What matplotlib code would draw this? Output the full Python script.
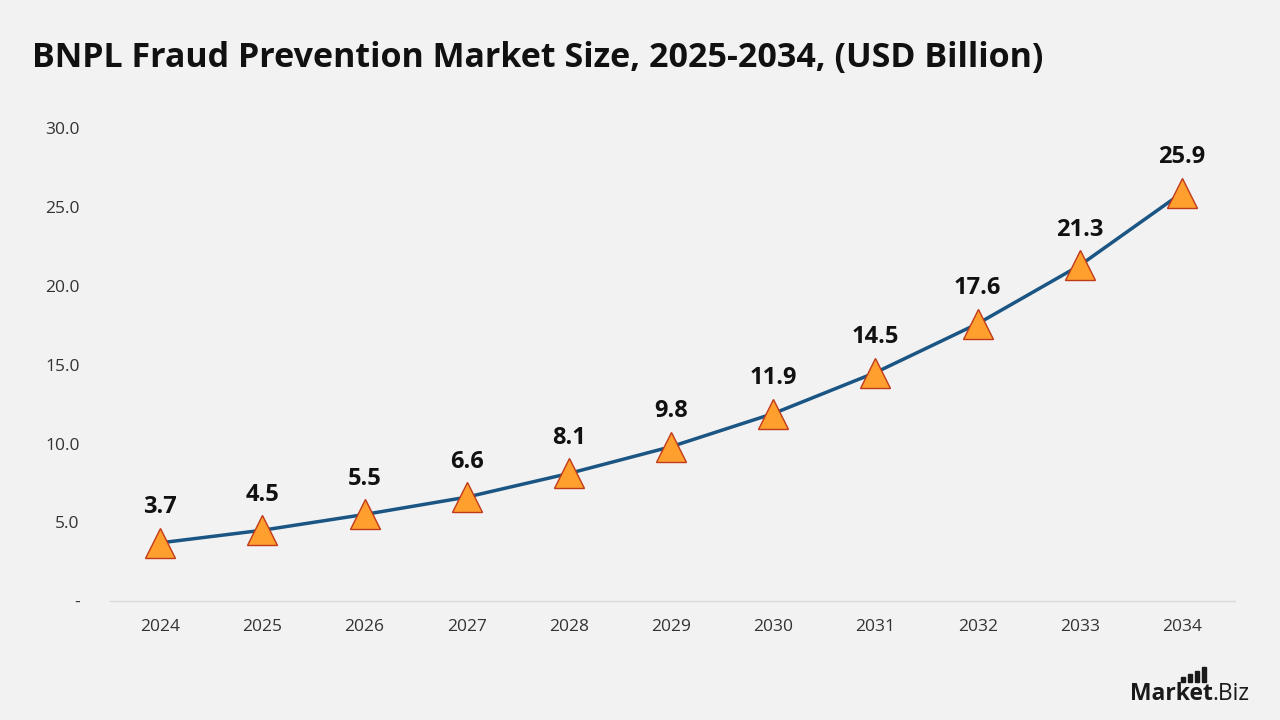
import matplotlib
matplotlib.use("Agg")
import matplotlib.pyplot as plt
from matplotlib.patches import Rectangle

years = ["2024", "2025", "2026", "2027", "2028", "2029", "2030", "2031", "2032", "2033", "2034"]
values = [3.7, 4.5, 5.5, 6.6, 8.1, 9.8, 11.9, 14.5, 17.6, 21.3, 25.9]
yticks = [0, 5, 10, 15, 20, 25, 30]
ytick_labels = ["-", "5.0", "10.0", "15.0", "20.0", "25.0", "30.0"]

plt.rcParams['font.family'] = ['Open Sans', 'DejaVu Sans']
bg = "#f2f2f2"
W, H = 1280, 720
fig = plt.figure(figsize=(12.8, 7.2), dpi=100, facecolor=bg)
ax = fig.add_axes([0.086, 0.165, 0.879, 0.657], facecolor=bg)

x = list(range(len(years)))
ax.plot(x, values, color="#1a5583", lw=2.5, zorder=2)
ax.plot(x, values, linestyle="none", marker="^", markersize=22,
        markerfacecolor="#ff9f2e", markeredgecolor="#c0391b", markeredgewidth=1.0, zorder=3)
for xi, v in zip(x, values):
    ax.annotate(f"{v:.1f}", (xi, v), xytext=(0, 17), textcoords="offset points",
                ha="center", va="bottom", fontsize=17, fontweight="bold", color="#111111")

ax.set_xlim(-0.49, 10.52)
ax.set_ylim(0, 30)
ax.set_xticks(x)
ax.set_xticklabels(years, fontsize=12.5, color="#333333")
ax.set_yticks(yticks)
ax.set_yticklabels(ytick_labels, fontsize=12.5, color="#333333")
ax.tick_params(axis="both", length=0, pad=13)
ax.tick_params(axis="y", pad=22)
for s in ["top", "right", "left"]:
    ax.spines[s].set_visible(False)
ax.spines["bottom"].set_color("#d9d9d9")
ax.spines["bottom"].set_linewidth(1)

fig.text(0.025, 0.92, "BNPL Fraud Prevention Market Size, 2025-2034, (USD Billion)",
         fontsize=24.5, fontweight="bold", color="#111111", va="center", ha="left")

# watermark
t1 = fig.text(1130 / W, 1 - 694 / H, "Market", fontsize=16.5, fontweight="bold",
              color="#1a1a1a", ha="left", va="center")
fig.canvas.draw()
bb = t1.get_window_extent()
fig.text(bb.x1 / W, 1 - 694 / H, ".Biz", fontsize=16.5, color="#1a1a1a",
         ha="left", va="center")
for bx, top in [(1181, 677), (1188, 674), (1195, 671), (1202, 667)]:
    fig.patches.append(Rectangle((bx / W, 1 - 682 / H), 4 / W, (682 - top) / H,
                                 transform=fig.transFigure, color="#1a1a1a"))

fig.savefig("out.png", dpi=100, facecolor=bg)
